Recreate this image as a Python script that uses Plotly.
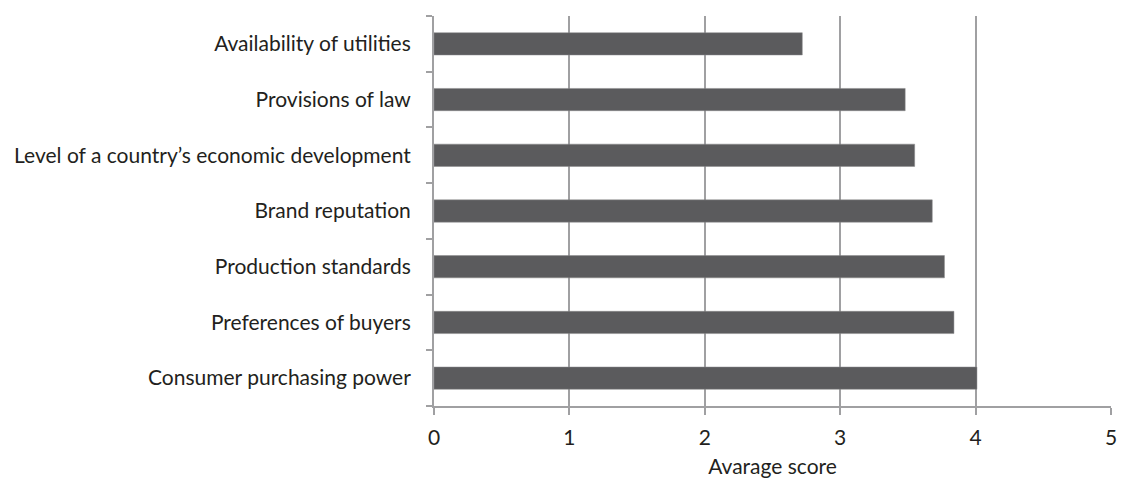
import plotly.graph_objects as go

categories = [
    "Availability of utilities",
    "Provisions of law",
    "Level of a country’s economic development",
    "Brand reputation",
    "Production standards",
    "Preferences of buyers",
    "Consumer purchasing power",
]
scores = [2.72, 3.48, 3.55, 3.68, 3.77, 3.84, 4.01]
x_ticks = [0, 1, 2, 3, 4, 5]
x_title = "Avarage score"

FONT = "Lato, 'Open Sans', sans-serif"
GRID = "#a0a0a2"

fig = go.Figure(
    go.Bar(
        x=scores,
        y=categories,
        orientation="h",
        marker=dict(color="#5b5b5d", line=dict(color="#8a8a8c", width=0.5)),
    )
)

fig.update_layout(
    width=1123,
    height=481,
    margin=dict(l=434, r=6, t=16, b=75),
    plot_bgcolor="white",
    paper_bgcolor="white",
    bargap=0.6,
    showlegend=False,
    font=dict(family=FONT, size=21, color="#231f20"),
)

fig.update_xaxes(
    range=[0, 5],
    tickvals=x_ticks,
    showgrid=True,
    gridcolor=GRID,
    gridwidth=2,
    showline=True,
    linecolor=GRID,
    linewidth=2,
    ticks="outside",
    ticklen=7,
    tickwidth=2,
    tickcolor=GRID,
    ticklabelstandoff=5,
    ticklabeloverflow="allow",
    zeroline=False,
    title=dict(text=x_title, font=dict(size=21, family=FONT), standoff=11),
    fixedrange=True,
)

fig.update_yaxes(
    categoryorder="array",
    categoryarray=categories[::-1],
    showgrid=False,
    showline=True,
    linecolor=GRID,
    linewidth=2,
    ticks="outside",
    tickson="boundaries",
    ticklen=6,
    tickwidth=2,
    tickcolor=GRID,
    ticklabelstandoff=17,
    zeroline=False,
    fixedrange=True,
)

fig.write_html(
    "out.html",
    config={"displayModeBar": False},
    post_script="document.body.style.margin='0px';document.body.style.overflow='hidden';",
)
